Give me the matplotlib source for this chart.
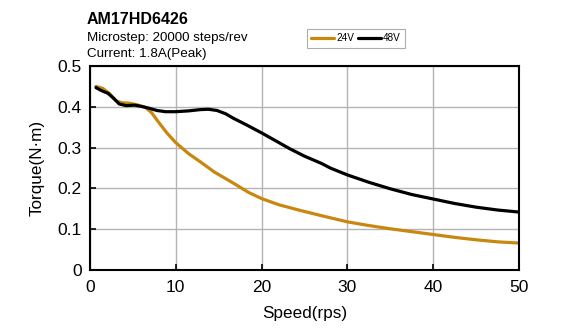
import matplotlib
matplotlib.use("Agg")
import matplotlib.pyplot as plt

plt.rcParams['font.family'] = ['Liberation Sans', 'DejaVu Sans']

# speed (rps) / torque (N.m)
speed_24 = [0.7, 1.5, 2.3, 3.0, 3.7, 4.5, 5.5, 6.5, 7.2, 8.0, 9.0, 10, 11.5, 12.8,
            14.5, 16.7, 18.5, 20, 22, 24.5, 27, 30, 32.5, 35, 37.5, 40, 42.5, 45, 47.5, 50]
torque_24 = [0.450, 0.445, 0.432, 0.415, 0.410, 0.409, 0.405, 0.398, 0.385, 0.362,
             0.335, 0.312, 0.285, 0.266, 0.240, 0.213, 0.190, 0.175, 0.160, 0.146,
             0.133, 0.118, 0.109, 0.101, 0.094, 0.087, 0.080, 0.074, 0.069, 0.066]

speed_48 = [0.7, 1.3, 2.1, 2.8, 3.4, 4.2, 5.2, 6.0, 6.8, 7.8, 8.8, 10, 11.5, 12.8,
            13.8, 14.8, 15.8, 16.7, 18.3, 20, 21.7, 23.3, 25, 27, 28, 30, 32.5, 35,
            37.5, 40, 42.5, 45, 47.5, 50]
torque_48 = [0.447, 0.440, 0.433, 0.420, 0.407, 0.403, 0.404, 0.401, 0.397, 0.391,
             0.388, 0.388, 0.390, 0.393, 0.394, 0.391, 0.383, 0.372, 0.355, 0.336,
             0.316, 0.297, 0.279, 0.261, 0.250, 0.233, 0.215, 0.199, 0.185, 0.174,
             0.163, 0.154, 0.147, 0.142]

x_ticks = [0, 10, 20, 30, 40, 50]
y_ticks = [0, 0.1, 0.2, 0.3, 0.4, 0.5]
y_labels = ['0', '0.1', '0.2', '0.3', '0.4', '0.5']

fig = plt.figure(figsize=(5.65, 3.31), dpi=100)
ax = fig.add_axes([0.1593, 0.1843, 0.7593, 0.6163])

ax.plot(speed_24, torque_24, color='#C8870E', lw=2.3, label='24V',
        solid_capstyle='round', solid_joinstyle='round')
ax.plot(speed_48, torque_48, color='black', lw=2.3, label='48V',
        solid_capstyle='round', solid_joinstyle='round')

ax.set_xlim(0, 50)
ax.set_ylim(0, 0.5)
ax.set_xticks(x_ticks)
ax.set_yticks(y_ticks)
ax.set_yticklabels(y_labels)
ax.grid(True, color='#b4b4b4', lw=1.0)
ax.set_axisbelow(True)
ax.tick_params(direction='in', length=4, width=1.2, labelsize=12.5, pad=6)
ax.tick_params(axis='x', pad=7)
for s in ax.spines.values():
    s.set_linewidth(1.5)

ax.set_xlabel('Speed(rps)', fontsize=12.3, labelpad=8)
ax.set_ylabel('Torque(N·m)', fontsize=12.3, labelpad=9)

fig.text(0.154, 0.940, 'AM17HD6426', fontsize=11.5, fontweight='bold', va='center')
fig.text(0.154, 0.885, 'Microstep: 20000 steps/rev', fontsize=9.6, va='center')
fig.text(0.154, 0.837, 'Current: 1.8A(Peak)', fontsize=9.6, va='center')

leg = fig.legend(loc='center', bbox_to_anchor=(0.630, 0.885), ncol=2, fontsize=7.2,
                 frameon=True, fancybox=False, handlelength=2.3, handletextpad=0.2,
                 columnspacing=0.4, borderpad=0.45, edgecolor='#999999')
leg.get_frame().set_linewidth(0.8)

fig.savefig('out.png', dpi=100)
